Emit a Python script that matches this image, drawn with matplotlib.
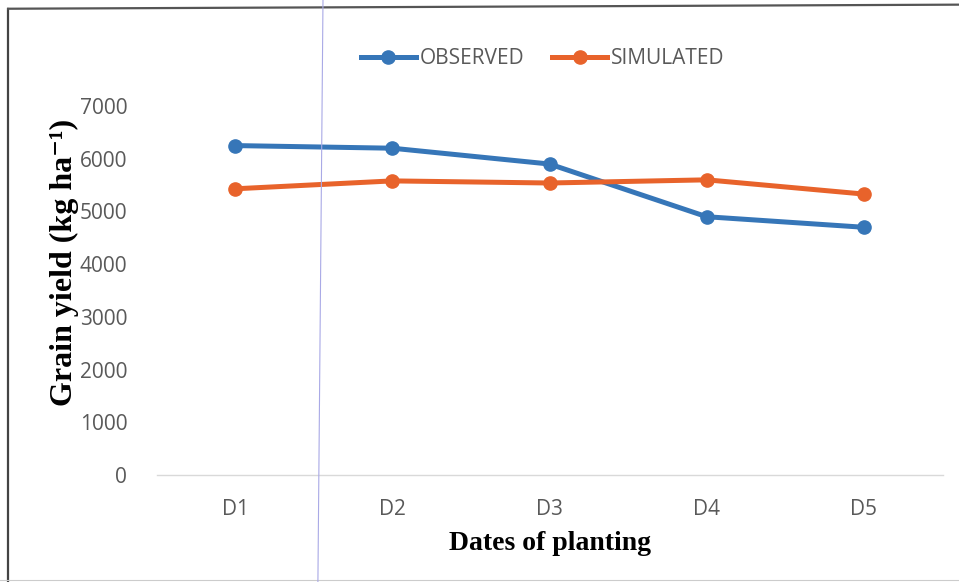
import matplotlib.pyplot as plt
from matplotlib.lines import Line2D
import numpy as np

dates = ["D1", "D2", "D3", "D4", "D5"]
observed = [6250, 6200, 5900, 4900, 4700]
simulated = [5430, 5580, 5540, 5600, 5330]
yticks = [0, 1000, 2000, 3000, 4000, 5000, 6000, 7000]

BLUE = "#3676b8"
ORANGE = "#e8632b"
TICK_GRAY = "#595959"
SERIF = ["Liberation Serif", "DejaVu Serif"]

fig = plt.figure(figsize=(9.59, 5.82), dpi=100)
ax = fig.add_axes([0.1632, 0.1838, 0.8196, 0.634])

x = np.arange(len(dates))
ax.plot(x, observed, color=BLUE, lw=3.6, marker="o", ms=9.5, label="OBSERVED")
ax.plot(x, simulated, color=ORANGE, lw=3.6, marker="o", ms=9.5, label="SIMULATED")

ax.set_xlim(-0.5, len(dates) - 0.5)
ax.set_ylim(0, 7000)
ax.set_xticks(x)
ax.set_xticklabels(dates)
ax.set_yticks(yticks)
ax.tick_params(length=0, labelsize=15, labelcolor=TICK_GRAY)
ax.tick_params(axis="x", pad=17)
ax.tick_params(axis="y", pad=21)
for lab in ax.get_xticklabels() + ax.get_yticklabels():
    lab.set_family("Open Sans")

for side in ["top", "right", "left"]:
    ax.spines[side].set_visible(False)
ax.spines["bottom"].set_color("#d9d9d9")
ax.spines["bottom"].set_linewidth(1.0)

ax.set_ylabel("Grain yield (kg ha\u207b\u00b9)", family=SERIF,
              fontweight="bold", fontsize=23)
ax.yaxis.set_label_coords(-0.099, 0.575)
ax.set_xlabel("Dates of planting", family=SERIF,
              fontweight="bold", fontsize=20, labelpad=8)

leg = fig.legend(loc="center", bbox_to_anchor=(0.566, 0.899), ncol=2, frameon=False,
                 fontsize=15, handlelength=2.6, columnspacing=1.35, handletextpad=0.2)
for t in leg.get_texts():
    t.set_color(TICK_GRAY)
    t.set_family("Open Sans")

# outer frame and the thin vertical rule across the figure
fig.add_artist(Line2D([0.0085, 0.0085], [0.0, 0.985], transform=fig.transFigure,
                      color="#444444", lw=1.6))
fig.add_artist(Line2D([0.0085, 1.0], [0.985, 0.992], transform=fig.transFigure,
                      color="#555555", lw=1.6))
fig.add_artist(Line2D([0.0, 1.0], [0.004, 0.004], transform=fig.transFigure,
                      color="#cccccc", lw=0.8))
fig.add_artist(Line2D([0.3315, 0.3368], [0.0, 1.0], transform=fig.transFigure,
                      color="#a9a9e6", lw=0.8))

fig.savefig("out.png", dpi=100)
